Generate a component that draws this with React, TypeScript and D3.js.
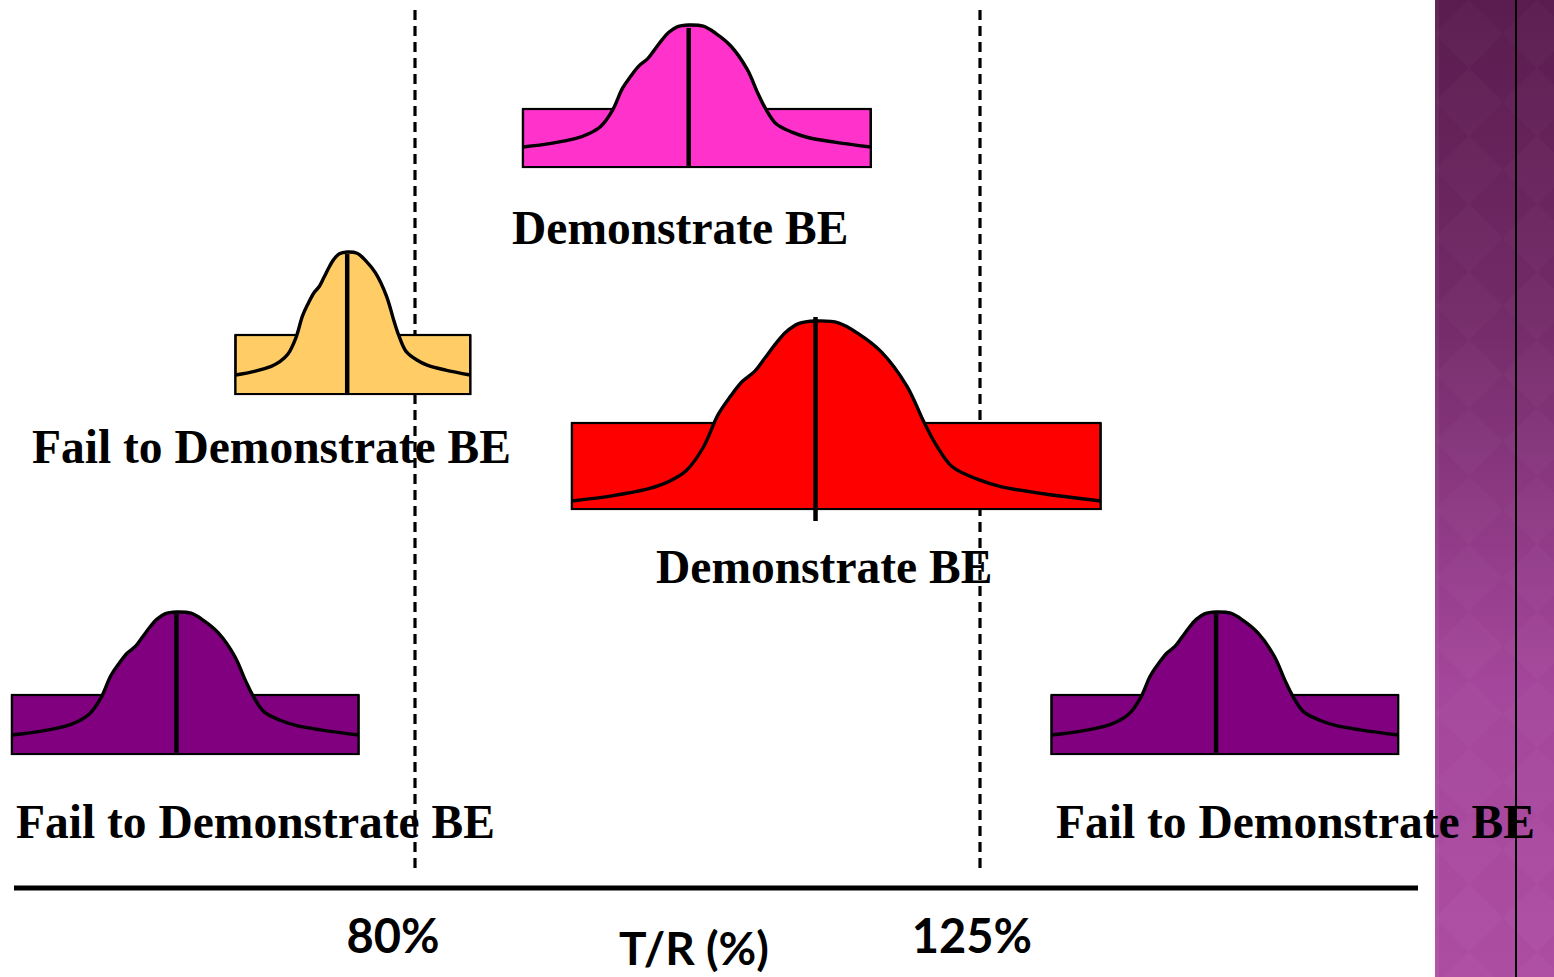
import React from "react";
import * as d3 from "d3";

// Bioequivalence outcomes: point estimate and interval extent of T/R (%)
const outcomeLabels = [
  "Demonstrate BE",
  "Fail to Demonstrate BE",
  "Demonstrate BE",
  "Fail to Demonstrate BE",
  "Fail to Demonstrate BE",
];
const pointEstimates = [101.8, 74.6, 111.9, 61.0, 143.8];
const lowerLimits = [88.6, 65.7, 92.5, 47.9, 130.7];
const upperLimits = [116.3, 84.4, 134.6, 75.5, 158.3];

// Acceptance limits and axis text
const acceptanceLimits = [80, 125];
const limitLabels = ["80%", "125%"];
const axisTitle = "T/R (%)";

// Colours of each outcome shape
const fillColors = ["#FF33CC", "#FFCC66", "#FF0000", "#800080", "#800080"];

// Vertical placement of each shape (pixels): bottom of box, box height,
// tail height and peak height above the bottom, center line tweaks, label spot
const rowLayout = [
  { base: 167, box: 58, tail: 20, peak: 142, lineTop: 3, lineExtra: 0, labelX: 512, labelY: 244 },
  { base: 394, box: 59, tail: 19, peak: 142, lineTop: 2, lineExtra: 0, labelX: 32, labelY: 463 },
  { base: 509, box: 86, tail: 8, peak: 188, lineTop: -4, lineExtra: 12, labelX: 656, labelY: 583 },
  { base: 754, box: 59, tail: 19, peak: 142, lineTop: 2, lineExtra: 0, labelX: 16, labelY: 838 },
  { base: 754, box: 59, tail: 19, peak: 142, lineTop: 2, lineExtra: 0, labelX: 1056, labelY: 838 },
];

// Bell outline template: u in [-1, 1] (left limit .. point estimate .. right limit),
// b in [0, 1] (tail level .. peak)
const bellProfile: [number, number][] = [
  [-1, 0], [-0.83, 0.03], [-0.68, 0.07], [-0.6, 0.11], [-0.53, 0.17], [-0.46, 0.3],
  [-0.4, 0.48], [-0.35, 0.58], [-0.3, 0.665], [-0.25, 0.72], [-0.21, 0.79], [-0.16, 0.88],
  [-0.12, 0.94], [-0.07, 0.985], [0, 1], [0.08, 0.99], [0.15, 0.93], [0.23, 0.83],
  [0.32, 0.64], [0.38, 0.44], [0.42, 0.32], [0.48, 0.19], [0.57, 0.12], [0.65, 0.08],
  [0.8, 0.04], [1, 0],
];

const W = 1554;
const H = 977;

export default function App() {
  const x = d3.scaleLinear().domain([80, 125]).range([415, 980]);

  const shapes = outcomeLabels.map((label, i) => {
    const r = rowLayout[i];
    const cx = x(pointEstimates[i]);
    const lx = x(lowerLimits[i]);
    const ux = x(upperLimits[i]);
    const tailY = r.base - r.tail;
    const peakY = r.base - r.peak;
    const pts: [number, number][] = bellProfile.map(([u, b]) => [
      cx + u * (u < 0 ? cx - lx : ux - cx),
      tailY - b * (tailY - peakY),
    ]);
    const line = d3
      .line<[number, number]>()
      .x((d) => d[0])
      .y((d) => d[1])
      .curve(d3.curveCatmullRom.alpha(0.5));
    const area = d3
      .area<[number, number]>()
      .x((d) => d[0])
      .y0(r.base - 1)
      .y1((d) => d[1])
      .curve(d3.curveCatmullRom.alpha(0.5));
    return { label, i, r, cx, lx, ux, peakY, linePath: line(pts) || "", areaPath: area(pts) || "" };
  });

  return (
    <svg
      width={W}
      height={H}
      viewBox={`0 0 ${W} ${H}`}
      style={{ position: "absolute", left: 0, top: 0, background: "#ffffff" }}
    >
      <defs>
        <linearGradient id="band" x1="0" y1="0" x2="0" y2="1">
          <stop offset="0" stopColor="#5A1C4E" />
          <stop offset="0.31" stopColor="#722A67" />
          <stop offset="0.7" stopColor="#A4469B" />
          <stop offset="1" stopColor="#AD4DA2" />
        </linearGradient>
        <pattern id="diamonds" width="68" height="68" patternUnits="userSpaceOnUse" x="1435" y="0">
          <path d="M34 0 L68 34 L34 68 L0 34 Z" fill="#ffffff" opacity="0.018" />
        </pattern>
      </defs>

      {/* side band */}
      <rect x={1435} y={0} width={W - 1435} height={H} fill="url(#band)" />
      <rect x={1435} y={0} width={W - 1435} height={H} fill="url(#diamonds)" />
      <rect x={1435} y={0} width={4} height={H} fill="#ffffff" opacity={0.05} />
      <line x1={1516} x2={1516} y1={0} y2={H} stroke="#000" strokeWidth={2} />

      {/* acceptance limits */}
      {acceptanceLimits.map((v) => (
        <line
          key={v}
          x1={x(v)}
          x2={x(v)}
          y1={10}
          y2={868}
          stroke="#000"
          strokeWidth={3.2}
          strokeDasharray="10,6"
        />
      ))}

      {/* outcome shapes */}
      {shapes.map((s) => (
        <g key={s.i}>
          <rect
            x={s.lx}
            y={s.r.base - s.r.box}
            width={s.ux - s.lx}
            height={s.r.box}
            fill={fillColors[s.i]}
            stroke="#000"
            strokeWidth={2.2}
          />
          <path d={s.areaPath} fill={fillColors[s.i]} stroke="none" />
          <path
            d={`M${s.lx},${s.r.base - s.r.box} V${s.r.base} H${s.ux} V${s.r.base - s.r.box}`}
            fill="none"
            stroke="#000"
            strokeWidth={2.2}
          />
          <path d={s.linePath} fill="none" stroke="#000" strokeWidth={3.4} strokeLinejoin="round" />
          <line
            x1={s.cx}
            x2={s.cx}
            y1={s.peakY + s.r.lineTop}
            y2={s.r.base + s.r.lineExtra}
            stroke="#000"
            strokeWidth={4.5}
          />
        </g>
      ))}

      {/* outcome labels */}
      {shapes.map((s) => (
        <text
          key={`l${s.i}`}
          x={s.r.labelX}
          y={s.r.labelY}
          fontFamily="'Liberation Serif', 'Times New Roman', serif"
          fontWeight="bold"
          fontSize={47.5}
          fill="#000"
        >
          {s.label}
        </text>
      ))}

      {/* axis */}
      <line x1={14} x2={1418} y1={888} y2={888} stroke="#000" strokeWidth={5} />
      {acceptanceLimits.map((v, i) => (
        <text
          key={`t${v}`}
          x={x(v) + (i === 0 ? -22 : -8)}
          y={953}
          textAnchor="middle"
          fontFamily="Lato, 'Open Sans', sans-serif"
          fontWeight="bold"
          fontSize={47}
          fill="#000"
        >
          {limitLabels[i]}
        </text>
      ))}
      <text
        x={694}
        y={965}
        textAnchor="middle"
        fontFamily="Lato, 'Open Sans', sans-serif"
        fontWeight="bold"
        fontSize={46}
        fill="#000"
      >
        {axisTitle}
      </text>
    </svg>
  );
}
